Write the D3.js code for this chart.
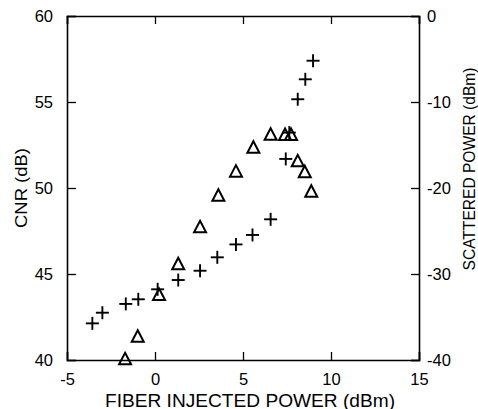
<!DOCTYPE html>
<html><head><meta charset="utf-8">
<script src="https://cdn.jsdelivr.net/npm/d3@7"></script>
<style>body{margin:0;background:#fff}svg{display:block}text{font-family:"Liberation Sans",Arial,sans-serif;fill:#000}</style>
</head><body><svg id="c" width="478" height="409"></svg>
<script>
// Fiber injected power (dBm) for CNR (+) series
const cnrX = [-3.56,-2.99,-1.66,-0.95,0.15,1.32,2.56,3.54,4.60,5.54,6.57,7.43,7.63,8.11,8.54,8.98];
const cnrY = [42.13,42.75,43.26,43.53,44.11,44.65,45.19,45.97,46.72,47.27,48.18,51.69,53.22,55.16,56.32,57.40];
// Fiber injected power (dBm) for scattered power (triangle) series
const scatX = [-1.70,-0.98,0.23,1.32,2.56,3.60,4.60,5.59,6.57,7.39,7.73,8.11,8.51,8.88];
const scatY = [-39.92,-37.29,-32.44,-28.87,-24.57,-20.90,-18.10,-15.31,-13.80,-13.84,-13.84,-16.90,-18.17,-20.43];
const xTicks = [-5,0,5,10,15];
const yLeftTicks = [40,45,50,55,60];
const yRightTicks = [-40,-30,-20,-10,0];

const svg = d3.select("#c");
const L=67,R=419,T=16,B=360;
const x = d3.scaleLinear().domain([-5,15]).range([L,R]);
const yl = d3.scaleLinear().domain([40,60]).range([B,T]);
const yr = d3.scaleLinear().domain([-40,0]).range([B,T]);
const fmt = d => String(d);

const g = svg.append("g");
const fs = 16.5;
// bottom axis
g.append("g").attr("transform",`translate(0,${B})`)
  .call(d3.axisBottom(x).tickValues(xTicks).tickSize(-8).tickPadding(13).tickFormat(fmt));
// top axis ticks
g.append("g").attr("transform",`translate(0,${T})`)
  .call(d3.axisTop(x).tickValues(xTicks).tickSize(-8).tickFormat(""));
// left axis
g.append("g").attr("transform",`translate(${L},0)`)
  .call(d3.axisLeft(yl).tickValues(yLeftTicks).tickSize(-9).tickPadding(14).tickFormat(fmt));
// right axis
g.append("g").attr("transform",`translate(${R},0)`)
  .call(d3.axisRight(yr).tickValues(yRightTicks).tickSize(-8).tickPadding(8).tickFormat(fmt));
g.selectAll(".domain").attr("stroke","#000").attr("stroke-width",1.6);
g.selectAll(".tick line").attr("stroke","#000").attr("stroke-width",1.3);
g.selectAll(".tick text").attr("font-size",fs).attr("font-family","Liberation Sans, Arial, sans-serif").attr("fill","#000");

// axis titles
svg.append("text").attr("x",250).attr("y",406.5).attr("text-anchor","middle").attr("font-size",17.5)
  .attr("textLength",290).attr("lengthAdjust","spacingAndGlyphs").text("FIBER INJECTED POWER (dBm)");
svg.append("text").attr("transform",`translate(27,188) rotate(-90)`).attr("text-anchor","middle").attr("font-size",17)
  .attr("textLength",80).attr("lengthAdjust","spacingAndGlyphs").text("CNR (dB)");
svg.append("text").attr("transform",`translate(475,169) rotate(-90)`).attr("text-anchor","middle").attr("font-size",16)
  .attr("textLength",203).attr("lengthAdjust","spacingAndGlyphs").text("SCATTERED POWER (dBm)");

// crosses
const cr = 6.5;
const cg = svg.append("g").attr("stroke","#000").attr("stroke-width",1.9);
cnrX.forEach((v,i)=>{
  const px=x(v), py=yl(cnrY[i]);
  cg.append("line").attr("x1",px-cr).attr("x2",px+cr).attr("y1",py).attr("y2",py);
  cg.append("line").attr("x1",px).attr("x2",px).attr("y1",py-cr).attr("y2",py+cr);
});
// triangles
const tg = svg.append("g").attr("stroke","#000").attr("stroke-width",2).attr("fill","none");
scatX.forEach((v,i)=>{
  const px=x(v), py=yr(scatY[i]);
  tg.append("path").attr("d",`M${px},${py-6.5}L${px+6},${py+5}L${px-6},${py+5}Z`).attr("stroke-linejoin","miter");
});
</script></body></html>
